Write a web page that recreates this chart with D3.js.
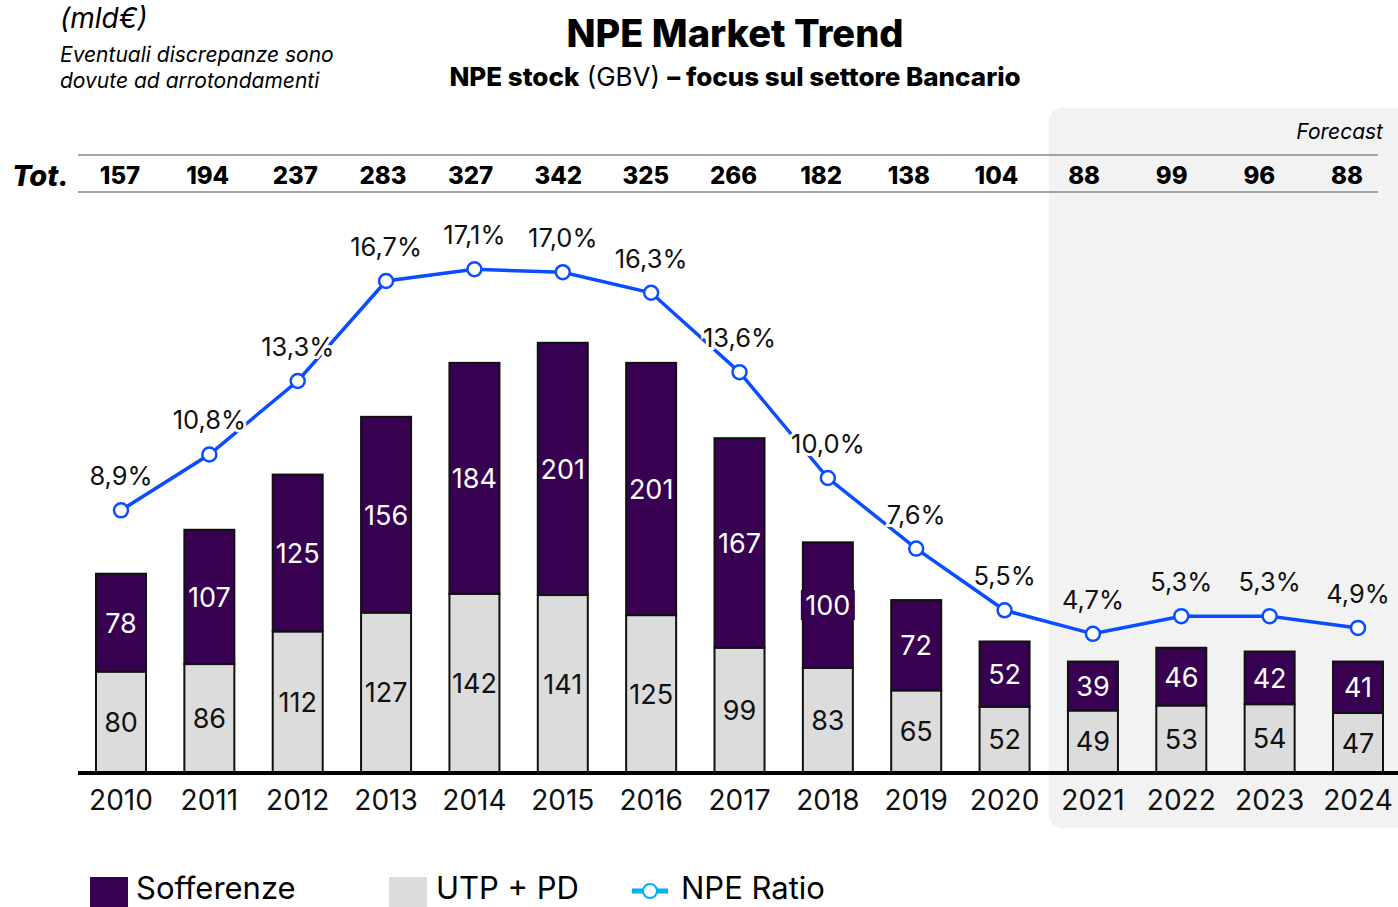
<!DOCTYPE html>
<html>
<head>
<meta charset="utf-8">
<script src="https://cdn.jsdelivr.net/npm/d3@7"></script>
<style>
  body { margin: 0; background: #fff; }
  text { font-family: Inter, 'Noto Sans', sans-serif; }
</style>
</head>
<body>
<div id="chart"></div>
<script>
const years = ['2010', '2011', '2012', '2013', '2014', '2015', '2016', '2017', '2018', '2019', '2020', '2021', '2022', '2023', '2024']
const sofferenze = [78, 107, 125, 156, 184, 201, 201, 167, 100, 72, 52, 39, 46, 42, 41]
const utpPd = [80, 86, 112, 127, 142, 141, 125, 99, 83, 65, 52, 49, 53, 54, 47]
const totals = [157, 194, 237, 283, 327, 342, 325, 266, 182, 138, 104, 88, 99, 96, 88]
const npeRatio = [8.9, 10.8, 13.3, 16.7, 17.1, 17.0, 16.3, 13.6, 10.0, 7.6, 5.5, 4.7, 5.3, 5.3, 4.9]
const forecastFrom = '2021'

const width = 1398
const height = 907
const baseY = 772
const barW = 50

const purple = '#370051'
const grey = '#dcdcdc'
const blue = '#0a4dff'

const svg = d3
  .select('#chart')
  .append('svg')
  .attr('width', width)
  .attr('height', height)

const x = d3.scalePoint().domain(years).range([121, 1358])
// the totals row is laid out a touch narrower than the bars
const xTot = d3.scalePoint().domain(years).range([120, 1347])
const y = d3.scaleLinear().domain([0, 350]).range([baseY, baseY - 350 * 1.255])
const yRatio = d3.scaleLinear().domain([0, 10]).range([baseY, baseY - 294])

const step = x.step()
const fcX = x(forecastFrom) - step / 2

// forecast panel
svg.append('rect')
  .attr('x', fcX)
  .attr('y', 108)
  .attr('width', width - fcX + 20)
  .attr('height', 720)
  .attr('rx', 14)
  .attr('fill', '#f2f2f2')

svg.append('text')
  .attr('x', 1383)
  .attr('y', 139)
  .attr('text-anchor', 'end')
  .attr('font-style', 'italic')
  .attr('font-size', 21)
  .text('Forecast')

// top-left notes
svg.append('text')
  .attr('x', 60).attr('y', 28)
  .attr('font-style', 'italic').attr('font-size', 28)
  .text('(mld€)')
svg.append('text')
  .attr('x', 60).attr('y', 62)
  .attr('font-style', 'italic').attr('font-size', 21)
  .text('Eventuali discrepanze sono')
svg.append('text')
  .attr('x', 60).attr('y', 88)
  .attr('font-style', 'italic').attr('font-size', 21)
  .text('dovute ad arrotondamenti')

// title
svg.append('text')
  .attr('x', 735).attr('y', 47)
  .attr('text-anchor', 'middle')
  .attr('font-size', 38).attr('font-weight', 800)
  .text('NPE Market Trend')

const sub = svg.append('text')
  .attr('x', 735).attr('y', 86)
  .attr('text-anchor', 'middle')
  .attr('font-size', 26)
sub.append('tspan').attr('font-weight', 800).text('NPE stock')
sub.append('tspan').attr('font-weight', 400).text(' (GBV) ')
sub.append('tspan').attr('font-weight', 800).text('– focus sul settore Bancario')

// totals row
svg.selectAll('.tot-line')
  .data([155, 192])
  .enter()
  .append('line')
  .attr('x1', 78).attr('x2', 1378)
  .attr('y1', d => d).attr('y2', d => d)
  .attr('stroke', '#888').attr('stroke-width', 1.5)

svg.append('text')
  .attr('x', 12).attr('y', 186)
  .attr('font-size', 29).attr('font-weight', 800).attr('font-style', 'italic')
  .text('Tot.')

svg.selectAll('.tot')
  .data(totals)
  .enter()
  .append('text')
  .attr('x', (d, i) => xTot(years[i]))
  .attr('y', 184)
  .attr('text-anchor', 'middle')
  .attr('font-size', 24).attr('font-weight', 800)
  .text(d => d)

// bars
const bars = svg.append('g')
bars.selectAll('.utp')
  .data(utpPd)
  .enter()
  .append('rect')
  .attr('x', (d, i) => x(years[i]) - barW / 2)
  .attr('y', d => y(d))
  .attr('width', barW)
  .attr('height', d => baseY - y(d))
  .attr('fill', grey)
  .attr('stroke', '#111').attr('stroke-width', 2)

bars.selectAll('.soff')
  .data(sofferenze)
  .enter()
  .append('rect')
  .attr('x', (d, i) => x(years[i]) - barW / 2)
  .attr('y', (d, i) => y(d + utpPd[i]))
  .attr('width', barW)
  .attr('height', d => baseY - y(d))
  .attr('fill', purple)
  .attr('stroke', '#111').attr('stroke-width', 2)

// the 2018 label sits on its own little box in the source
const i18 = years.indexOf('2018')
bars.append('rect')
  .attr('x', x('2018') - 27)
  .attr('y', (y(sofferenze[i18] + utpPd[i18]) + y(utpPd[i18])) / 2 - 15)
  .attr('width', 54)
  .attr('height', 30)
  .attr('fill', purple)

bars.selectAll('.utp-label')
  .data(utpPd)
  .enter()
  .append('text')
  .attr('x', (d, i) => x(years[i]))
  .attr('y', d => (y(d) + baseY) / 2 + 10)
  .attr('text-anchor', 'middle')
  .attr('font-size', 27)
  .attr('fill', '#111')
  .text(d => d)

bars.selectAll('.soff-label')
  .data(sofferenze)
  .enter()
  .append('text')
  .attr('x', (d, i) => x(years[i]))
  .attr('y', (d, i) => (y(d + utpPd[i]) + y(utpPd[i])) / 2 + 10)
  .attr('text-anchor', 'middle')
  .attr('font-size', 27)
  .attr('fill', '#fff')
  .text(d => d)

// baseline + years
svg.append('line')
  .attr('x1', 78).attr('x2', width)
  .attr('y1', baseY + 1).attr('y2', baseY + 1)
  .attr('stroke', '#000').attr('stroke-width', 4)

svg.selectAll('.year')
  .data(years)
  .enter()
  .append('text')
  .attr('x', d => x(d))
  .attr('y', 810)
  .attr('text-anchor', 'middle')
  .attr('font-size', 28)
  .attr('fill', '#111')
  .text(d => d)

// NPE ratio line
const line = d3.line()
  .x((d, i) => x(years[i]))
  .y(d => yRatio(d))

svg.append('path')
  .datum(npeRatio)
  .attr('d', line)
  .attr('fill', 'none')
  .attr('stroke', blue)
  .attr('stroke-width', 3.5)

svg.selectAll('.pct')
  .data(npeRatio)
  .enter()
  .append('text')
  .attr('x', (d, i) => x(years[i]))
  .attr('y', d => yRatio(d) - 25)
  .attr('text-anchor', 'middle')
  .attr('font-size', 25.5)
  .attr('fill', '#111')
  .attr('stroke', (d, i) => (years[i] >= forecastFrom ? '#f2f2f2' : '#fff'))
  .attr('stroke-width', 6)
  .attr('paint-order', 'stroke')
  .text(d => d3.format('.1f')(d).replace('.', ',') + '%')

svg.selectAll('.dot')
  .data(npeRatio)
  .enter()
  .append('circle')
  .attr('cx', (d, i) => x(years[i]))
  .attr('cy', d => yRatio(d))
  .attr('r', 7)
  .attr('fill', '#fff')
  .attr('stroke', blue)
  .attr('stroke-width', 2.5)

// legend
const legend = svg.append('g')
legend.append('rect')
  .attr('x', 90).attr('y', 877).attr('width', 38).attr('height', 30)
  .attr('fill', purple)
legend.append('text')
  .attr('x', 136).attr('y', 899)
  .attr('font-size', 31)
  .text('Sofferenze')
legend.append('rect')
  .attr('x', 389).attr('y', 877).attr('width', 38).attr('height', 30)
  .attr('fill', grey)
legend.append('text')
  .attr('x', 436).attr('y', 899)
  .attr('font-size', 31)
  .text('UTP + PD')
legend.append('line')
  .attr('x1', 632).attr('x2', 668).attr('y1', 891).attr('y2', 891)
  .attr('stroke', '#00b0f0').attr('stroke-width', 5)
legend.append('circle')
  .attr('cx', 650).attr('cy', 891).attr('r', 7)
  .attr('fill', '#fff').attr('stroke', '#00b0f0').attr('stroke-width', 2)
legend.append('text')
  .attr('x', 681).attr('y', 899)
  .attr('font-size', 31)
  .text('NPE Ratio')
</script>
</body>
</html>
